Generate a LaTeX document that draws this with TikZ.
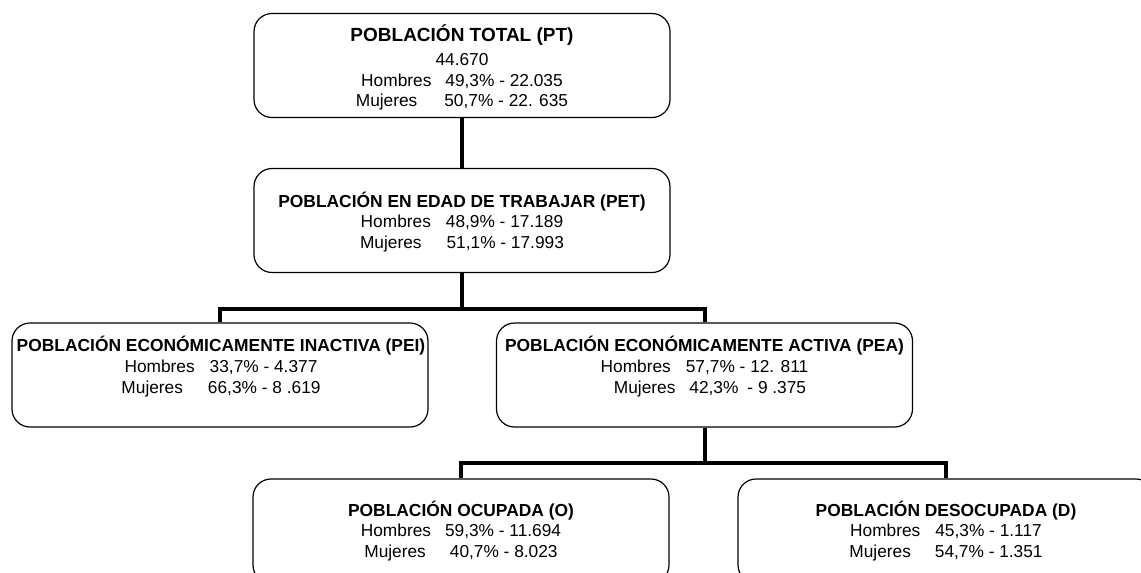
\documentclass[tikz,border=0pt]{standalone}
\usepackage{fontspec}
\setmainfont{Liberation Sans}
\begin{document}
\begin{tikzpicture}[x=1pt,y=-1pt,
  box/.style={draw=black, line width=1.2pt, rounded corners=18pt, fill=white,
    minimum width=#1, minimum height=104pt, inner sep=0pt},
  box/.default=416pt,
  conn/.style={draw=black, line width=4pt, line join=miter},
  ttl/.style={anchor=base, inner sep=0pt, font=\fontsize{17.4}{21}\selectfont\bfseries},
  bigttl/.style={anchor=base, inner sep=0pt, font=\fontsize{19}{23}\selectfont\bfseries},
  txt/.style={anchor=base, inner sep=0pt, font=\fontsize{17.3}{21}\selectfont}
]
\useasboundingbox (0,0) rectangle (1141,573);
\clip (0,0) rectangle (1141,573);
\fill[white] (0,0) rectangle (1141,573);

% boxes
\node[box] (PT)  at (462,65.5) {};
\node[box] (PET) at (462,220.5) {};
\node[box] (PEI) at (220,375) {};
\node[box] (PEA) at (704.5,375) {};
\node[box] (O)   at (461,531) {};
\node[box] (D)   at (946,531) {};

% connectors
\coordinate (j1) at (462,309);
\coordinate (j2) at (704.5,463);
\draw[conn] (PT.south) -- (PET.north);
\draw[conn] (PET.south) -- (j1);
\draw[conn] (PEI.north) |- (j1) -| (PEA.north);
\draw[conn] (PEA.south) -- (j2);
\draw[conn] (O.north) |- (j2) -| (D.north);

% PT text
\node[bigttl] (PT1) at (462,41.8) {POBLACIÓN TOTAL (PT)};
\node[txt] (PT2) at (462,65.7) {44.670};
\node[txt] (PT3) at (462,86.2) {Hombres\hspace{14pt}49,3\% - 22.035};
\node[txt] (PT4) at (462,106.2) {Mujeres\hspace{27pt}50,7\% - 22. 635};

% PET text
\node[ttl] (PET1) at (462,207.2) {POBLACIÓN EN EDAD DE TRABAJAR (PET)};
\node[txt] (PET2) at (462,227.2) {Hombres\hspace{15pt}48,9\% - 17.189};
\node[txt] (PET3) at (462,248.2) {Mujeres\hspace{25pt}51,1\% - 17.993};

% PEI text
\node[ttl] (PEI1) at (221,351.2) {POBLACIÓN ECONÓMICAMENTE INACTIVA (PEI)};
\node[txt] (PEI2) at (221,372.2) {Hombres\hspace{15pt}33,7\% - 4.377};
\node[txt] (PEI3) at (221,393.2) {Mujeres\hspace{25pt}66,3\% - 8 .619};

% PEA text
\node[ttl] (PEA1) at (704.5,351.2) {POBLACIÓN ECONÓMICAMENTE ACTIVA (PEA)};
\node[txt] (PEA2) at (704.5,372.2) {Hombres\hspace{15pt}57,7\% - 12. 811};
\node[txt] (PEA3) at (710,393.2) {Mujeres\hspace{14pt}42,3\%\hspace{9pt}- 9 .375};

% O text
\node[ttl] (O1) at (461,516.2) {POBLACIÓN OCUPADA (O)};
\node[txt] (O2) at (461,536.5) {Hombres\hspace{14pt}59,3\% - 11.694};
\node[txt] (O3) at (461,557) {Mujeres\hspace{24pt}40,7\% - 8.023};

% D text
\node[ttl] (D1) at (946,516.2) {POBLACIÓN DESOCUPADA (D)};
\node[txt] (D2) at (946,536.5) {Hombres\hspace{15pt}45,3\% - 1.117};
\node[txt] (D3) at (946,557) {Mujeres\hspace{24pt}54,7\% - 1.351};
\end{tikzpicture}
\end{document}
